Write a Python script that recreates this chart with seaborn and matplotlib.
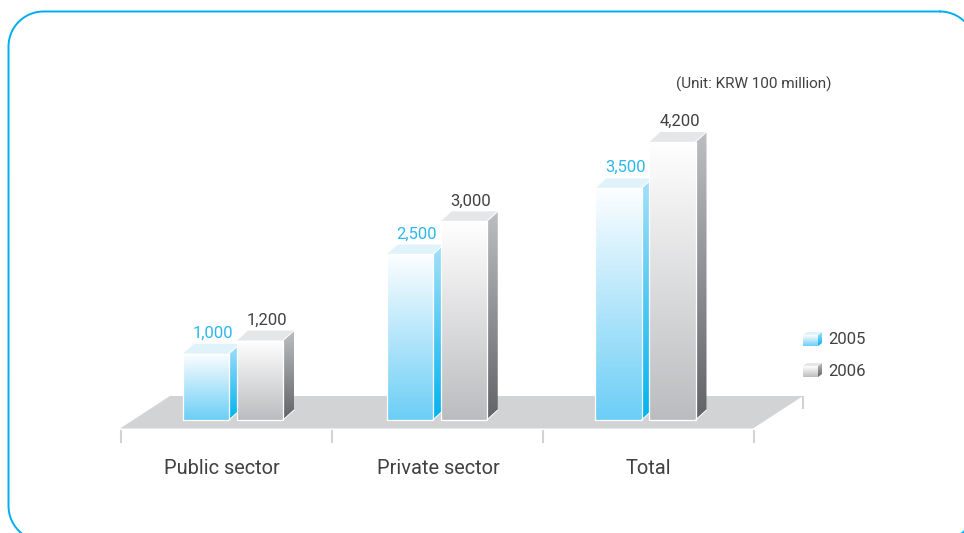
import numpy as np
import pandas as pd
import seaborn as sns
import matplotlib
matplotlib.use("Agg")
import matplotlib.pyplot as plt
from matplotlib.colors import LinearSegmentedColormap
from matplotlib.patches import Polygon
from matplotlib.transforms import Affine2D

# Chart values
sectors = ["Public sector", "Private sector", "Total"]
years = ["2005", "2006"]
values_2005 = [1000, 2500, 3500]
values_2006 = [1200, 3000, 4200]
unit_label = "(Unit: KRW 100 million)"

# Face colours of each year's cuboid: front, side (top to bottom), cap, value label
faces = {
    "2005": (("#FDFEFF", "#6CCEF6"), ("#A5E0F9", "#00B2EF"), "#E0F3FB", "#2BB8EC"),
    "2006": (("#FFFFFF", "#BBBCBF"), ("#BDBEC1", "#626366"), "#E5E6E7", "#414042"),
}
floor_colour = "#D1D3D4"
text_colour = "#414042"
border_colour = "#00AEEF"

W, H = 964, 533
sns.set_theme(style="white")
plt.rcParams["font.family"] = ["Roboto", "Liberation Sans", "DejaVu Sans"]
plt.rcParams["font.weight"] = "normal"

fig = plt.figure(figsize=(W / 100, H / 100), dpi=100, facecolor="white")
ax = fig.add_axes([0, 0, 1, 1])

# Layout scale: pixels per category step and per KRW 100 million
step_px, unit_px = 206.25, 0.0662
origin_x, origin_y = 233.0, 420.0
group_nudge_px = [0.0, -2.5, 0.0]
depth_x, depth_y = 11.0, 10.0
xlim = ((0 - origin_x) / step_px, (W - origin_x) / step_px)
ylim = (-(H - origin_y) / unit_px, origin_y / unit_px)


def data_x(px):
    return (px - origin_x) / step_px


def data_y(py):
    return (origin_y - py) / unit_px


# Pixel space measured from the top-left corner of the figure
pixels = Affine2D().scale(1, -1).translate(0, H)

table = pd.DataFrame({
    "sector": sectors * 2,
    "year": [years[0]] * 3 + [years[1]] * 3,
    "value": values_2005 + values_2006,
})
sns.barplot(data=table, x="sector", y="value", hue="year", hue_order=years,
            palette=["#6CCEF6", "#BBBCBF"], width=0.5236, gap=0.148, legend=False,
            ax=ax, saturation=1, errorbar=None, zorder=20)
bars = list(ax.patches)
ax.set_axis_off()
ax.set_xlim(xlim)
ax.set_ylim(ylim)


def shaded(poly, colours, zorder):
    """Fill a polygon with a vertical two-colour gradient."""
    cmap = LinearSegmentedColormap.from_list("face", colours)
    xs, ys = zip(*poly)
    ramp = np.linspace(0, 1, 256).reshape(-1, 1)
    img = ax.imshow(ramp, cmap=cmap, aspect="auto", origin="upper", zorder=zorder,
                    extent=(min(xs), max(xs), min(ys), max(ys)), interpolation="bilinear")
    img.set_clip_path(Polygon(poly, closed=True, transform=ax.transData))


def cuboid(x0, x1, y0, y1, dx, dy, year, zorder, edge=True):
    """Draw a pseudo-3D block from its front rectangle in data coordinates."""
    front, side, cap, _ = faces[year]
    shaded([(x1, y0), (x1 + dx, y0 + dy), (x1 + dx, y1 + dy), (x1, y1)], side, zorder)
    ax.add_patch(Polygon([(x0, y1), (x1, y1), (x1 + dx, y1 + dy), (x0 + dx, y1 + dy)],
                         closed=True, fc=cap, ec="none", zorder=zorder + 0.1))
    shaded([(x0, y0), (x1, y0), (x1, y1), (x0, y1)], front, zorder + 0.2)
    if edge:
        ax.plot([x0, x0, x1, x1, x0], [y0, y1, y1, y0, y0], color="white",
                lw=0.9, zorder=zorder + 0.3, solid_joinstyle="miter")
        ax.plot([x1, x1 + dx], [y1, y1 + dy], color="white", lw=0.7, zorder=zorder + 0.3)
        ax.plot([x1, x1 + dx], [y0, y0 + dy], color="white", lw=0.7, zorder=zorder + 0.3)


# Floor plate under the bars, with its drop ticks
ax.add_patch(Polygon([(120, 428.5), (170, 396), (803, 396), (753, 428.5)], closed=True,
                     fc=floor_colour, ec="none", transform=pixels, zorder=2))
for tick_x, top, bottom in [(120.5, 430, 443), (331.5, 430, 443), (542.5, 430, 443),
                            (753.5, 430, 443), (803, 396, 409)]:
    ax.plot([tick_x, tick_x], [top, bottom], color=floor_colour, lw=1.5,
            transform=pixels, zorder=2, solid_capstyle="butt")

# Replace the flat bars with shaded blocks and label them
dx_data, dy_data = depth_x / step_px, depth_y / unit_px
for i, bar in enumerate(bars):
    year = years[i // 3]
    group = i % 3
    x0 = bar.get_x() + group_nudge_px[group] / step_px
    x1 = x0 + bar.get_width()
    value = bar.get_height()
    bar.set_visible(False)
    cuboid(x0, x1, 0, value, dx_data, dy_data, year, 10 + 2 * (i // 3) + 0.5 * group)
    ax.annotate(f"{value:,.0f}", xy=((x0 + x1) / 2, value), xytext=(7, 20.5),
                textcoords="offset pixels", ha="center", va="center", fontsize=12,
                color=faces[year][3], zorder=30)

# Category names
for name, px in zip(sectors, [222, 438.5, 648]):
    ax.text(px, 468, name, transform=pixels, ha="center", va="center",
            fontsize=14.4, color=text_colour, zorder=30)

ax.text(831, 84, unit_label, transform=pixels, ha="right", va="center",
        fontsize=11.0, color=text_colour, zorder=30)

# Legend swatches and their years
for year, py in zip(years, [346, 377]):
    cuboid(data_x(803), data_x(818), data_y(py), data_y(py - 11),
           4 / step_px, 3 / unit_px, year, 25, edge=False)
    ax.text(828, py - 6, year, transform=pixels, ha="left", va="center",
            fontsize=12, color=text_colour, zorder=30)

# Rounded frame running past the right and bottom edges
left, top, right, bottom, radius = 8.5, 11.5, 975.0, 541.0, 35.0
corners = [(right - radius, top + radius, -90), (right - radius, bottom - radius, 0),
           (left + radius, bottom - radius, 90), (left + radius, top + radius, 180)]
frame_x, frame_y = [], []
for cx, cy, start in corners:
    angles = np.radians(np.linspace(start, start + 90, 40))
    frame_x.extend(cx + radius * np.cos(angles))
    frame_y.extend(cy + radius * np.sin(angles))
ax.plot(frame_x + frame_x[:1], frame_y + frame_y[:1], color=border_colour, lw=1.4,
        transform=pixels, zorder=1)

ax.set_xlim(xlim)
ax.set_ylim(ylim)
fig.savefig("out.png", dpi=100, facecolor="white")
